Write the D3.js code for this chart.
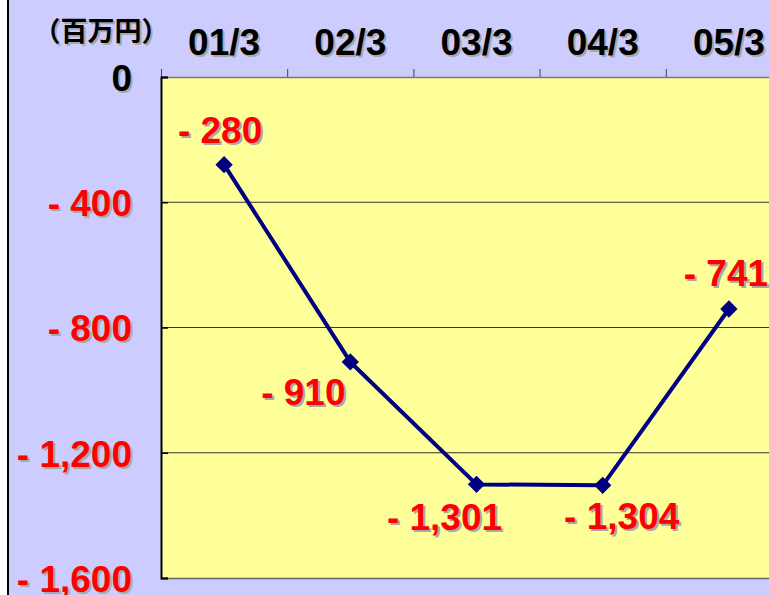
<!DOCTYPE html>
<html>
<head>
<meta charset="utf-8">
<script src="https://cdn.jsdelivr.net/npm/d3@7/dist/d3.min.js"></script>
<style>
  body { margin: 0; background: #fff; }
  svg { display: block; font-family: "Liberation Sans", Arial, sans-serif; font-weight: bold; }
</style>
</head>
<body>
<div id="chart"></div>
<script>
// fiscal year ends
const periods = ["01/3", "02/3", "03/3", "04/3", "05/3"];
// 百万円
const values = [-280, -910, -1301, -1304, -741];
const yTicks = [0, -400, -800, -1200, -1600];
const unitLabel = "（百万円）";

const width = 769, height = 595;
const plot = { left: 161, top: 77, right: 792, bottom: 578 };
const fontSize = 37;

const svg = d3.select("#chart").append("svg")
    .attr("width", width).attr("height", height);

// backgrounds
svg.append("rect").attr("width", width).attr("height", height).attr("fill", "#fff");
svg.append("rect").attr("x", 9).attr("width", width - 9).attr("height", height).attr("fill", "#ccccff");
svg.append("rect").attr("x", 7).attr("width", 2).attr("height", height).attr("fill", "#000");
svg.append("rect")
    .attr("x", plot.left).attr("y", plot.top)
    .attr("width", plot.right - plot.left).attr("height", plot.bottom - plot.top)
    .attr("fill", "#ffff99");

const x = d3.scaleBand().domain(periods).range([plot.left, plot.right]).padding(0);
const y = d3.scaleLinear().domain([-1600, 0]).range([plot.bottom, plot.top]);

// gridlines
svg.append("g").selectAll("line").data(yTicks.filter(d => d !== 0 && d !== -1600)).join("line")
    .attr("x1", plot.left).attr("x2", plot.right)
    .attr("y1", d => y(d)).attr("y2", d => y(d))
    .attr("stroke", "#333").attr("stroke-width", 1);

// bottom edge
svg.append("line").attr("x1", plot.left).attr("x2", plot.right)
    .attr("y1", plot.bottom + 0.5).attr("y2", plot.bottom + 0.5)
    .attr("stroke", "#666").attr("stroke-width", 1.5);

function shadowText(sel) {
    // draw a grey copy behind each label
    sel.each(function () {
        const clone = this.cloneNode(true);
        this.parentNode.insertBefore(clone, this);
        d3.select(clone).attr("fill", "#a8a8a8")
            .attr("transform", "translate(2,2)");
    });
}

// top axis (categories)
const xAxis = svg.append("g")
    .attr("transform", `translate(0,${plot.top})`)
    .call(d3.axisTop(x).tickSize(0).tickPadding(22));
xAxis.select(".domain").attr("stroke", "#777").attr("stroke-width", 1.5);
xAxis.selectAll("text")
    .attr("font-size", fontSize).attr("font-family", "Liberation Sans, Arial, sans-serif")
    .attr("font-weight", "bold").attr("fill", "#000").attr("dy", 0)
    .call(shadowText);

// tick marks at category boundaries
svg.append("g").selectAll("line").data(periods).join("line")
    .attr("x1", d => x(d) + 0.5).attr("x2", d => x(d) + 0.5)
    .attr("y1", plot.top - 8).attr("y2", plot.top)
    .attr("stroke", "#444").attr("stroke-width", 1);

// left axis
const fmt = d3.format(",");
const yAxis = svg.append("g")
    .attr("transform", `translate(${plot.left},0)`)
    .call(d3.axisLeft(y).tickValues(yTicks).tickSize(-7).tickPadding(29)
        .tickFormat(d => d === 0 ? "0" : "- " + fmt(-d)));
yAxis.select(".domain").attr("stroke", "#000").attr("stroke-width", 2);
yAxis.selectAll(".tick line").attr("stroke", "#000").attr("stroke-width", 1.5);
yAxis.selectAll("text")
    .attr("font-size", fontSize).attr("font-family", "Liberation Sans, Arial, sans-serif")
    .attr("font-weight", "bold")
    .attr("fill", d => d === 0 ? "#000" : "#ff0000")
    .attr("dy", "0.36em")
    .call(shadowText);

// unit label
svg.append("text")
    .attr("x", 101).attr("y", 41)
    .attr("text-anchor", "middle")
    .attr("font-family", "Noto Sans CJK JP, sans-serif")
    .attr("font-size", 27).attr("font-weight", "bold")
    .attr("fill", "#000")
    .text(unitLabel)
    .call(shadowText);

// line
const cx = d => x(d) + x.bandwidth() / 2;
const pts = periods.map((p, i) => ({ p, v: values[i] }));
svg.append("path")
    .datum(pts)
    .attr("fill", "none")
    .attr("stroke", "#000080")
    .attr("stroke-width", 4)
    .attr("stroke-linejoin", "round")
    .attr("d", d3.line().x(d => cx(d.p)).y(d => y(d.v)));

svg.append("g").selectAll("path").data(pts).join("path")
    .attr("d", d3.symbol(d3.symbolSquare, 150))
    .attr("transform", d => `translate(${cx(d.p)},${y(d.v)}) rotate(45)`)
    .attr("fill", "#000080");

// value labels: above or below the marker, nudged sideways
const labelPlace = [
    { dx: -4, dy: -22 },
    { dx: -47, dy: 43 },
    { dx: -32, dy: 46 },
    { dx: 19, dy: 44 },
    { dx: -3, dy: -23 }
];
svg.append("g").selectAll("text").data(pts).join("text")
    .attr("x", (d, i) => cx(d.p) + labelPlace[i].dx)
    .attr("y", (d, i) => y(d.v) + labelPlace[i].dy)
    .attr("text-anchor", "middle")
    .attr("font-size", fontSize)
    .attr("fill", "#ff0000")
    .text(d => "- " + fmt(-d.v))
    .call(shadowText);
</script>
</body>
</html>
